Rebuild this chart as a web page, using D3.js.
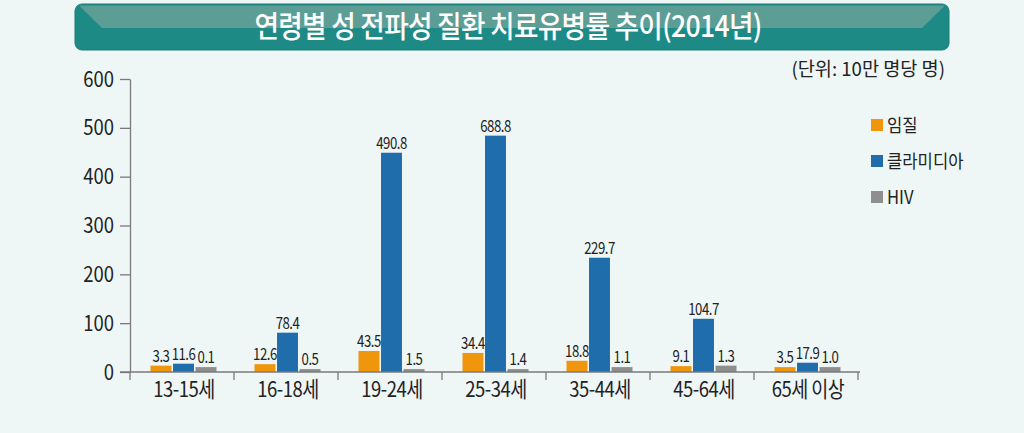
<!DOCTYPE html>
<html><head><meta charset="utf-8">
<script src="https://cdn.jsdelivr.net/npm/d3@7"></script>
<style>
html,body{margin:0;padding:0;background:#eff6f6;}
svg{display:block;}
text{font-family:"Noto Sans CJK KR","Noto Sans",sans-serif;}
</style></head><body>
<svg id="c" width="1024" height="433"></svg>
<script>
const title = "연령별 성 전파성 질환 치료유병률 추이(2014년)";
const unitText = "(단위: 10만 명당 명)";
const categories = ["13-15세","16-18세","19-24세","25-34세","35-44세","45-64세","65세 이상"];
const seriesNames = ["임질","클라미디아","HIV"];
const seriesColors = ["#f0960c","#1f6dab","#8e8e8e"];
// bar heights as drawn in the picture
const infertility = [13, 16, 43, 39, 23, 12, 10];
const chlamydia = [17, 80.5, 449, 484, 234, 109, 19];
const hiv = [10, 6, 6, 6, 10, 13, 10];
// value labels as printed
const infertilityLabels = ["3.3","12.6","43.5","34.4","18.8","9.1","3.5"];
const chlamydiaLabels = ["11.6","78.4","490.8","688.8","229.7","104.7","17.9"];
const hivLabels = ["0.1","0.5","1.5","1.4","1.1","1.3","1.0"];
const yTicks = [0,100,200,300,400,500,600];

const series = [infertility, chlamydia, hiv];
const seriesLabels = [infertilityLabels, chlamydiaLabels, hivLabels];

const svg = d3.select("#c");

// condensed text helper
function ctext(parent, x, y, str, size, sx, anchor, fill, weight) {
  return parent.append("text")
    .attr("transform", `translate(${x},${y}) scale(${sx},1)`)
    .attr("text-anchor", anchor || "middle")
    .attr("font-size", size).attr("fill", fill || "#222")
    .attr("font-weight", weight || 400)
    .text(str);
}

// Title banner
const bx0 = 75, bx1 = 949, by0 = 4, by1 = 50;
svg.append("rect").attr("x",bx0).attr("y",by0).attr("width",bx1-bx0).attr("height",by1-by0)
  .attr("rx",7).attr("fill","#1d8a85").attr("stroke","#197d78").attr("stroke-width",1);
svg.append("path")
  .attr("d",`M${bx0+4},${by0+1.5} L${bx1-4},${by0+1.5} L${bx1-27},${by0+24} L${bx0+27},${by0+24} Z`)
  .attr("fill","#5c9d96");
ctext(svg, 508, 37, title, 30, 0.89, "middle", "#ffffff", 500).attr("letter-spacing", -0.8);

// Unit
ctext(svg, 945, 76, unitText, 19, 0.98, "end", "#222", 400);

const x0 = d3.scaleBand().domain(categories).range([130, 858]).paddingInner(0).paddingOuter(0);
const y = d3.scaleLinear().domain([0,600]).range([372, 79]);

const g = svg.append("g");

// y axis
const yAxis = d3.axisLeft(y).tickValues(yTicks).tickSize(10).tickSizeOuter(0).tickFormat("");
const ya = g.append("g").attr("transform","translate(130,0)").call(yAxis);
ya.select(".domain").attr("stroke","#7a7a7a").attr("stroke-width",1.3);
ya.selectAll(".tick line").attr("stroke","#7a7a7a").attr("stroke-width",1.3);
yTicks.forEach(t => ctext(g, 114, y(t) + 7.5, String(t), 21.5, 0.86, "end"));

// bars
const groupW = 66;
const x1 = d3.scaleBand().domain(d3.range(3)).range([0, groupW]).paddingInner(0.07);

categories.forEach((cat, i) => {
  const cx = x0(cat) + x0.bandwidth()/2 + 1.5 - groupW/2;
  series.forEach((arr, s) => {
    const v = arr[i];
    const bx = cx + x1(s);
    g.append("rect").attr("x", bx).attr("y", y(v)).attr("width", x1.bandwidth())
      .attr("height", y(0) - y(v)).attr("fill", seriesColors[s]);
    ctext(g, bx + x1.bandwidth()/2, y(v) - 4, seriesLabels[s][i], 16.5, 0.8, "middle")
      .attr("letter-spacing", -0.6);
  });
});

// x axis
const xa = g.append("g").attr("transform","translate(0,372)");
xa.append("line").attr("x1",120).attr("x2",860).attr("y1",0).attr("y2",0)
  .attr("stroke","#7a7a7a").attr("stroke-width",1.5);
const bounds = categories.map(c => x0(c)).concat([x0(categories[categories.length-1]) + x0.bandwidth()]);
xa.selectAll("line.t").data(bounds).enter().append("line").attr("class","t")
  .attr("x1",d=>d).attr("x2",d=>d).attr("y1",0).attr("y2",8)
  .attr("stroke","#7a7a7a").attr("stroke-width",1.3);
categories.forEach(c => ctext(xa, x0(c) + x0.bandwidth()/2 + 2, 25, c, 21.5, 0.86, "middle").attr("letter-spacing", -0.6));

// legend
const lg = svg.append("g");
seriesNames.forEach((n, s) => {
  const ly = 125 + s*36;
  lg.append("rect").attr("x",871).attr("y",ly-6).attr("width",12).attr("height",12).attr("fill",seriesColors[s]);
  ctext(lg, 887, ly + 7, n, 18.5, 0.9, "start");
});
</script>
</body></html>
